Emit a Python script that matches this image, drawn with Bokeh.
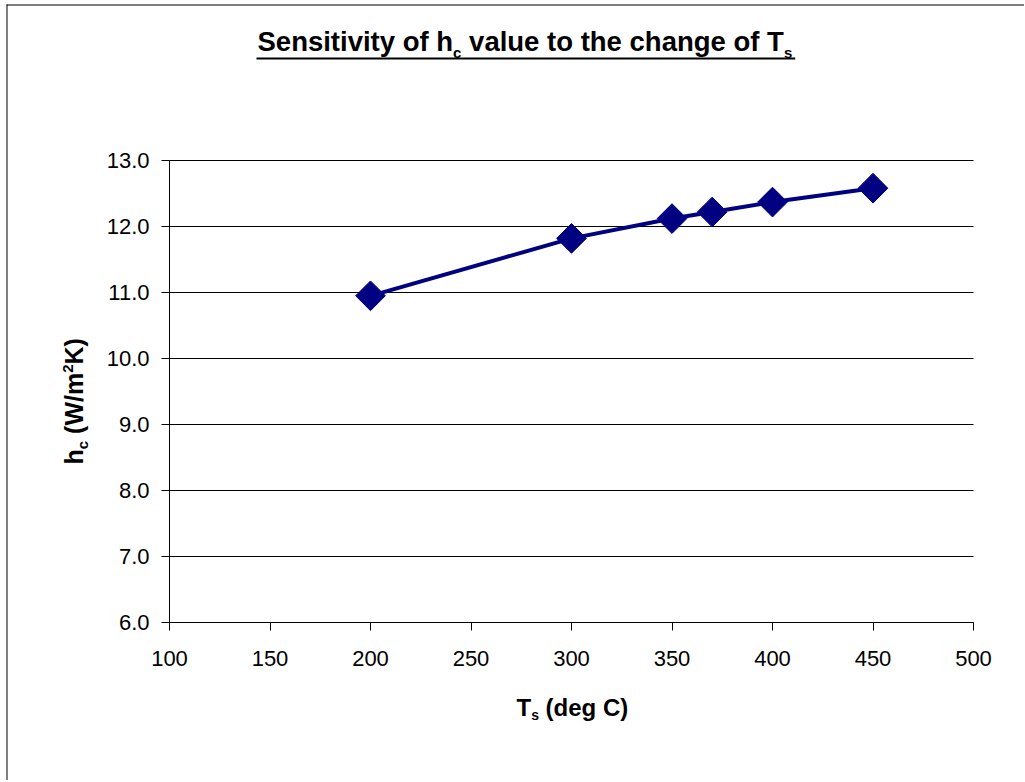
import numpy as np
from bokeh.plotting import figure
from bokeh.models import (Range1d, FixedTicker, PrintfTickFormatter, Label, BoxAnnotation,
                          LinearAxis, Grid)
from bokeh.embed import file_html
from bokeh.resources import INLINE

# ---- data ----
ts_values = [200, 300, 350, 370, 400, 450]
hc_values = [10.95, 11.82, 12.12, 12.22, 12.37, 12.58]
x_ticks = [100, 150, 200, 250, 300, 350, 400, 450, 500]
y_ticks = [6, 7, 8, 9, 10, 11, 12, 13]
x_lo, x_hi = 100, 500
y_lo, y_hi = 6, 13

NAVY = "#000080"
FONT = "Liberation Sans"

# canvas and plot-area geometry (pixels on page; canvas at page origin)
W, H = 1024, 780
PL, PR, PT, PB = 169, 973, 160, 622

sx = (x_hi - x_lo) / (PR - PL)
sy = (y_hi - y_lo) / (PB - PT)
x_range = Range1d(x_lo - PL * sx, x_hi + (W - PR) * sx)
y_range = Range1d(y_lo - (H - PB) * sy, y_hi + PT * sy)

p = figure(width=W, height=H, output_backend="svg", toolbar_location=None,
           x_range=x_range, y_range=y_range,
           x_axis_location=None, y_axis_location=None,
           min_border_left=0, min_border_right=0, min_border_top=0, min_border_bottom=0)
p.outline_line_color = None
p.background_fill_color = "white"
p.border_fill_color = "white"
p.grid.visible = False

grid = Grid(dimension=1, ticker=FixedTicker(ticks=y_ticks), cross_bounds=(x_lo, x_hi),
            grid_line_color="black", grid_line_width=1)
p.add_layout(grid)

xaxis = LinearAxis(fixed_location=y_lo, bounds=(x_lo, x_hi), ticker=FixedTicker(ticks=x_ticks))
yaxis = LinearAxis(fixed_location=x_lo, bounds=(y_lo, y_hi), ticker=FixedTicker(ticks=y_ticks),
                   formatter=PrintfTickFormatter(format="%.1f"))
for ax in (xaxis, yaxis):
    ax.axis_line_color = "black"
    ax.axis_line_width = 1
    ax.major_tick_line_color = "black"
    ax.major_tick_out = 8
    ax.major_tick_in = 0
    ax.minor_tick_line_color = None
    ax.major_label_text_font = FONT
    ax.major_label_text_font_size = "22px"
    ax.major_label_text_color = "black"
xaxis.major_label_standoff = 20
yaxis.major_label_standoff = 12
p.add_layout(xaxis, "below")
p.add_layout(yaxis, "left")

p.line(ts_values, hc_values, line_color=NAVY, line_width=4)
p.scatter(ts_values, hc_values, marker="square", angle=np.pi / 4, size=21,
          fill_color=NAVY, line_color=NAVY, line_width=1)

# ---- composed texts (with sub/superscripts) ----
WID = {' ': 278, '(': 333, ')': 333, '/': 278, '2': 556, 'C': 722, 'K': 722, 'S': 667,
       'T': 611, 'W': 944, 'a': 556, 'c': 556, 'd': 611, 'e': 556, 'f': 333, 'g': 611,
       'h': 611, 'i': 278, 'l': 278, 'm': 889, 'n': 611, 'o': 611, 's': 556, 't': 333,
       'u': 611, 'v': 556, 'y': 556}
BASE_FIX = 0.36   # correction between requested and drawn baseline, per px of font size


def tw(s, size):
    return sum(WID[c] for c in s) * size / 1000.0


def lab(text, px, py, size, angle=0.0):
    p.add_layout(Label(x=px, y=H - py, x_units="screen", y_units="screen",
                       text=text, text_font=FONT, text_font_style="bold",
                       text_font_size=f"{size}px", text_color="black",
                       text_baseline="alphabetic", text_align="left", angle=angle))


def box(left, right, top, bottom):
    p.add_layout(BoxAnnotation(left=left, right=right, top=H - top, bottom=H - bottom,
                               left_units="screen", right_units="screen",
                               top_units="screen", bottom_units="screen",
                               fill_color="black", fill_alpha=1.0, line_color=None))


def run_h(pieces, x0, base):
    x = x0
    for text, size, shift in pieces:
        lead = len(text) - len(text.lstrip(" "))
        x += tw(" " * lead, size)
        body = text.lstrip(" ")
        lab(body, x, base + shift - BASE_FIX * size, size)
        x += tw(body, size)
    return x


def run_v(pieces, y0, base):
    y = y0
    for text, size, shift in pieces:
        lead = len(text) - len(text.lstrip(" "))
        y -= tw(" " * lead, size)
        body = text.lstrip(" ")
        lab(body, base + shift - BASE_FIX * size, y, size, angle=np.pi / 2)
        y -= tw(body, size)
    return y


# title
title_end = run_h([("Sensitivity of h", 27.5, 0), ("c", 15, 6),
                   (" value to the change of T", 27.5, 0), ("s", 15, 6)], 257, 51)
box(256, title_end + 3, 57, 59)

# x axis title
run_h([("T", 24, 0), ("s", 14, 4), (" (deg C)", 24, 0)], 516, 716)

# y axis title (rotated, reading upward)
run_v([("h", 25, 0), ("c", 15, 5), (" (W/m", 25, 0), ("2", 15, -9), ("K)", 25, 0)], 464, 82)

# chart-area border (left and top edges)
box(6, 7, 4, H)
box(6, W, 4, 5)

open("out.html", "w").write(file_html(p, INLINE))
